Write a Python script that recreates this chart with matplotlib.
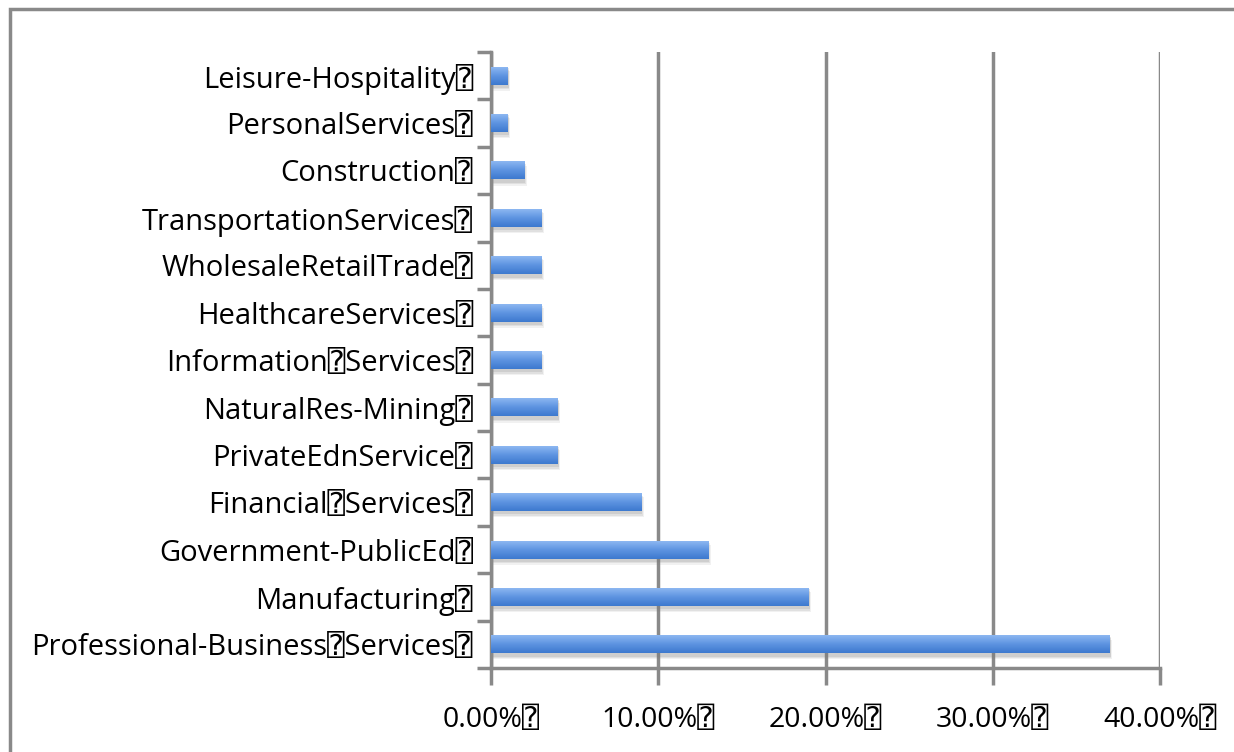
import numpy as np
import matplotlib
matplotlib.use("Agg")
import matplotlib.pyplot as plt
from matplotlib.colors import LinearSegmentedColormap
from matplotlib.patches import Rectangle
from matplotlib.ticker import FixedLocator, FuncFormatter

BOX = "\u2370"
categories = [
    "Professional-Business" + BOX + "Services" + BOX,
    "Manufacturing" + BOX,
    "Government-PublicEd" + BOX,
    "Financial" + BOX + "Services" + BOX,
    "PrivateEdnService" + BOX,
    "NaturalRes-Mining" + BOX,
    "Information" + BOX + "Services" + BOX,
    "HealthcareServices" + BOX,
    "WholesaleRetailTrade" + BOX,
    "TransportationServices" + BOX,
    "Construction" + BOX,
    "PersonalServices" + BOX,
    "Leisure-Hospitality" + BOX,
]
values = [0.37, 0.19, 0.13, 0.09, 0.04, 0.04, 0.03, 0.03, 0.03, 0.03, 0.02, 0.01, 0.01]
x_ticks = [0.0, 0.1, 0.2, 0.3, 0.4]

FAMILY = ["Open Sans", "DejaVu Sans", "DejaVu Sans Mono"]
GRAY = "#898989"

fig = plt.figure(figsize=(12.34, 7.52), dpi=100)
fig.patch.set_facecolor("white")
# outer frame (top and left visible)
fig.patches.append(Rectangle((10 / 1234, -0.05), 1.2, (752 - 9) / 752 + 0.05,
                             transform=fig.transFigure, fill=False,
                             edgecolor=GRAY, lw=2.5, zorder=0))

ax = fig.add_axes([491 / 1234, 1 - 668 / 752, (1160 - 491) / 1234, (668 - 52) / 752])
y = np.arange(len(categories))

h = 0.38
# shadow
for dx, dy, a in [(0.0014, -0.11, 0.10), (0.0009, -0.08, 0.14), (0.0005, -0.05, 0.18)]:
    ax.barh(y + dy, np.array(values) + dx, height=h + 0.04, color="#7f7f7f",
            alpha=a, zorder=2, linewidth=0)

bars = ax.barh(y, values, height=h, color="#5b8fdc", zorder=3, linewidth=0)
cmap = LinearSegmentedColormap.from_list("g", ["#3d79cf", "#5f95e2", "#92bbf3"])
grad = np.linspace(0, 1, 64).reshape(-1, 1)
for b in bars:
    x0, y0 = b.get_x(), b.get_y()
    w, hh = b.get_width(), b.get_height()
    im = ax.imshow(grad, cmap=cmap, aspect="auto", origin="lower",
                   extent=[x0, x0 + w, y0, y0 + hh], zorder=4)
    im.set_clip_path(b)
ax.set_ylim(-0.5, len(categories) - 0.5)
ax.set_xlim(0, 0.4)

ax.set_xticks(x_ticks)
ax.xaxis.set_major_formatter(FuncFormatter(lambda v, p: f"{v*100:.2f}%" + BOX))
ax.set_yticks(y)
ax.set_yticklabels(categories)
ax.yaxis.set_minor_locator(FixedLocator(np.arange(-0.5, len(categories), 1.0)))
ax.tick_params(axis="y", which="major", length=0, pad=13, labelsize=21)
ax.tick_params(axis="y", which="minor", length=10, width=2.5, color=GRAY)
ax.tick_params(axis="x", length=12, width=2.5, color=GRAY, pad=15, labelsize=20.5)
for lab in ax.get_xticklabels() + ax.get_yticklabels():
    lab.set_family(FAMILY)

ax.grid(axis="x", color=GRAY, lw=2.5, zorder=1)
ax.set_axisbelow(True)
for s in ["top", "right"]:
    ax.spines[s].set_visible(False)
for s in ["left", "bottom"]:
    ax.spines[s].set_color(GRAY)
    ax.spines[s].set_linewidth(2.5)

fig.savefig("out.png", dpi=100)
